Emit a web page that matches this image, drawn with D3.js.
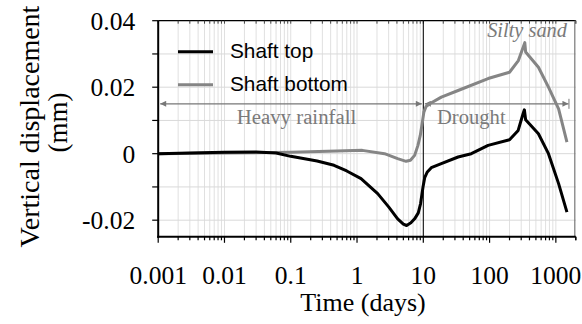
<!DOCTYPE html>
<html>
<head>
<meta charset="utf-8">
<script src="https://cdn.jsdelivr.net/npm/d3@7/dist/d3.min.js"></script>
<style>
  html, body { margin: 0; padding: 0; background: #fff; }
  svg { display: block; }
  text { font-family: 'Liberation Serif', 'Times New Roman', serif; }
  text.sans { font-family: 'Liberation Sans', Arial, sans-serif; }
</style>
</head>
<body>
<svg id="chart" width="582" height="324"></svg>
<script>
// Time (days) and vertical displacement (mm) for the two shaft gauges
const timeTop = [0.001, 0.003, 0.01, 0.03, 0.06, 0.1, 0.14, 0.25, 0.45, 0.7, 1.15, 2.05, 3.0, 4.1, 5.0, 5.6, 6.5, 7.4, 8.4, 9.1, 9.9, 10.5, 11.5, 13.2, 18.7, 33.5, 53, 95, 200, 270, 320, 335, 350, 546, 774, 1100, 1470];
const shaftTop = [0, 0.0002, 0.0004, 0.0005, 0.0002, -0.0008, -0.0013, -0.0022, -0.0035, -0.0052, -0.0075, -0.012, -0.016, -0.0196, -0.0212, -0.0216, -0.0208, -0.0196, -0.0178, -0.015, -0.010, -0.0072, -0.0055, -0.0042, -0.0030, -0.001, 0.0, 0.0025, 0.0042, 0.007, 0.012, 0.0132, 0.0102, 0.006, 0.0, -0.009, -0.0176];

const timeBottom = [0.001, 0.01, 0.1, 0.5, 1.2, 2.6, 4.1, 5.5, 6.4, 7.4, 8.3, 9.0, 9.6, 10.2, 11.0, 12.5, 18.7, 33.5, 95, 200, 272, 340, 350, 546, 774, 1100, 1470];
const shaftBottom = [0, 0.0002, 0.0004, 0.0008, 0.001, 0.0, -0.0015, -0.0023, -0.002, -0.0005, 0.0025, 0.0055, 0.009, 0.0125, 0.0142, 0.015, 0.017, 0.019, 0.0226, 0.0245, 0.028, 0.0334, 0.0306, 0.026, 0.020, 0.0135, 0.0035];

const xTickValues = [0.001, 0.01, 0.1, 1, 10, 100, 1000];
const xTickLabels = ["0.001", "0.01", "0.1", "1", "10", "100", "1000"];
const yTickValues = [0.04, 0.02, 0, -0.02];
const yTickLabels = ["0.04", "0.02", "0", "-0.02"];

const seriesNames = ["Shaft top", "Shaft bottom"];
const seriesColors = ["#000000", "#858585"];

// Phases marked with arrows
const phaseStarts = [0.001, 10];
const phaseEnds = [10, 1550];
const phaseLabels = ["Heavy rainfall", "Drought"];
const phaseLevel = 0.015;
const soilLabel = "Silty sand";

const svg = d3.select("#chart");
const plotL = 158.2, plotR = 575.8, plotT = 20.7, plotB = 236.8;

const x = d3.scaleLog().domain([0.001, 2000]).range([plotL, plotR]);
const y = d3.scaleLinear().domain([-0.025, 0.04]).range([plotB, plotT]);

// minor log positions for grid and ticks
const minorVals = [];
for (let e = -3; e <= 3; e++) {
  for (let m = 1; m <= 9; m++) {
    const v = m * Math.pow(10, e);
    if (v <= 2000) minorVals.push(v);
  }
}
minorVals.push(2000);

// grid
const grid = svg.append("g");
grid.selectAll("line.vg").data(minorVals.filter(v => v > 0.001 && v < 2000)).join("line")
  .attr("x1", d => x(d)).attr("x2", d => x(d))
  .attr("y1", plotT).attr("y2", plotB)
  .attr("stroke", "#e0e0e0").attr("stroke-width", 1);
const yGrid = d3.range(-0.02, 0.0401, 0.01);
grid.selectAll("line.hg").data(yGrid).join("line")
  .attr("x1", plotL).attr("x2", plotR)
  .attr("y1", d => y(d)).attr("y2", d => y(d))
  .attr("stroke", "#d9d9d9").attr("stroke-width", 1);

// top and right borders
svg.append("line").attr("x1", plotL).attr("x2", plotR).attr("y1", plotT).attr("y2", plotT)
  .attr("stroke", "#000").attr("stroke-width", 1.2);
svg.append("g").selectAll("line").data(minorVals).join("line")
  .attr("x1", d => x(d)).attr("x2", d => x(d))
  .attr("y1", plotT).attr("y2", plotT + 3)
  .attr("stroke", "#444").attr("stroke-width", 1);
svg.append("line").attr("x1", plotR - 1).attr("x2", plotR - 1).attr("y1", plotT).attr("y2", plotB)
  .attr("stroke", "#777").attr("stroke-width", 1.2);

// vertical separator at 10 days
svg.append("line").attr("x1", x(10)).attr("x2", x(10)).attr("y1", plotT).attr("y2", plotB)
  .attr("stroke", "#000").attr("stroke-width", 1);

// phase arrows
const defs = svg.append("defs");
defs.append("marker").attr("id", "arrowEnd").attr("viewBox", "0 0 10 10")
  .attr("refX", 10).attr("refY", 5).attr("markerWidth", 8).attr("markerHeight", 6)
  .attr("markerUnits", "userSpaceOnUse").attr("orient", "auto")
  .append("path").attr("d", "M0,0 L10,5 L0,10 Z").attr("fill", "#777");
defs.append("marker").attr("id", "arrowStart").attr("viewBox", "0 0 10 10")
  .attr("refX", 0).attr("refY", 5).attr("markerWidth", 8).attr("markerHeight", 6)
  .attr("markerUnits", "userSpaceOnUse").attr("orient", "auto")
  .append("path").attr("d", "M10,0 L0,5 L10,10 Z").attr("fill", "#777");

const phases = svg.append("g");
phaseStarts.forEach((s, i) => {
  const x1 = x(s) + (i === 0 ? 2 : 1.5);
  const x2 = x(phaseEnds[i]) - (i === 0 ? 1.5 : 0);
  phases.append("line")
    .attr("x1", x1).attr("x2", x2)
    .attr("y1", y(phaseLevel)).attr("y2", y(phaseLevel))
    .attr("stroke", "#777").attr("stroke-width", 1.3)
    .attr("marker-start", "url(#arrowStart)").attr("marker-end", "url(#arrowEnd)");
});
phases.append("line")
  .attr("x1", x(phaseEnds[1]) + 0.5).attr("x2", x(phaseEnds[1]) + 0.5)
  .attr("y1", y(phaseLevel) - 5).attr("y2", y(phaseLevel) + 5)
  .attr("stroke", "#777").attr("stroke-width", 1);

phases.append("text").attr("x", 296.5).attr("y", 124)
  .attr("text-anchor", "middle").attr("font-size", 20.8).attr("fill", "#7a7a7a")
  .text(phaseLabels[0]);
phases.append("text").attr("x", 437).attr("y", 124)
  .attr("text-anchor", "start").attr("font-size", 20.6).attr("fill", "#7a7a7a")
  .text(phaseLabels[1]);
svg.append("text").attr("x", 567).attr("y", 37)
  .attr("text-anchor", "end").attr("font-size", 20.4).attr("font-style", "italic").attr("fill", "#7a7a7a")
  .text(soilLabel);

// curves
const line = d3.line().x(d => x(d[0])).y(d => y(d[1])).curve(d3.curveLinear);
const topData = timeTop.map((t, i) => [t, shaftTop[i]]);
const bottomData = timeBottom.map((t, i) => [t, shaftBottom[i]]);
svg.append("path").datum(bottomData).attr("d", line)
  .attr("fill", "none").attr("stroke", seriesColors[1]).attr("stroke-width", 3)
  .attr("stroke-linejoin", "round");
svg.append("path").datum(topData).attr("d", line)
  .attr("fill", "none").attr("stroke", seriesColors[0]).attr("stroke-width", 3)
  .attr("stroke-linejoin", "round");

// legend
const legend = svg.append("g");
seriesNames.forEach((name, i) => {
  const ly = 51.7 + i * 33;
  legend.append("line").attr("x1", 178).attr("x2", 213).attr("y1", ly).attr("y2", ly)
    .attr("stroke", seriesColors[i]).attr("stroke-width", 3);
  legend.append("text").attr("class", "sans").attr("x", 230).attr("y", ly + 6.5)
    .attr("font-size", 20.8).attr("fill", "#000").text(name);
});

// x axis
const xAxisG = svg.append("g").attr("transform", `translate(0,${plotB})`);
xAxisG.append("line").attr("x1", plotL - 1).attr("x2", plotR).attr("y1", 0).attr("y2", 0)
  .attr("stroke", "#000").attr("stroke-width", 2);
xAxisG.selectAll("line.minor").data(minorVals).join("line")
  .attr("x1", d => x(d)).attr("x2", d => x(d))
  .attr("y1", 0).attr("y2", d => xTickValues.includes(d) ? 6 : 3.5)
  .attr("stroke", "#000").attr("stroke-width", 1.2);
xAxisG.selectAll("text").data(xTickValues).join("text")
  .attr("x", d => x(d)).attr("y", 47.5)
  .attr("text-anchor", "middle").attr("font-size", 25.5).attr("fill", "#000")
  .text((d, i) => xTickLabels[i]);

// y axis
const yAxisG = svg.append("g").attr("transform", `translate(${plotL},0)`);
yAxisG.append("line").attr("x1", 0).attr("x2", 0).attr("y1", plotT).attr("y2", plotB + 1)
  .attr("stroke", "#000").attr("stroke-width", 2);
yAxisG.selectAll("line.t").data(yGrid).join("line")
  .attr("x1", -6).attr("x2", 0).attr("y1", d => y(d)).attr("y2", d => y(d))
  .attr("stroke", "#000").attr("stroke-width", 1.2);
yAxisG.selectAll("text").data(yTickValues).join("text")
  .attr("x", -23).attr("y", d => y(d) + 9)
  .attr("text-anchor", "end").attr("font-size", 25.5).attr("fill", "#000")
  .text((d, i) => yTickLabels[i]);

// axis titles
svg.append("text").attr("x", 363).attr("y", 311)
  .attr("text-anchor", "middle").attr("font-size", 26).attr("fill", "#000")
  .text("Time (days)");
svg.append("text").attr("transform", "translate(39,126.5) rotate(-90)")
  .attr("text-anchor", "middle").attr("font-size", 28).attr("fill", "#000")
  .text("Vertical displacement");
svg.append("text").attr("transform", "translate(66.5,122.5) rotate(-90)")
  .attr("text-anchor", "middle").attr("font-size", 27).attr("fill", "#000")
  .text("(mm)");
</script>
</body>
</html>
